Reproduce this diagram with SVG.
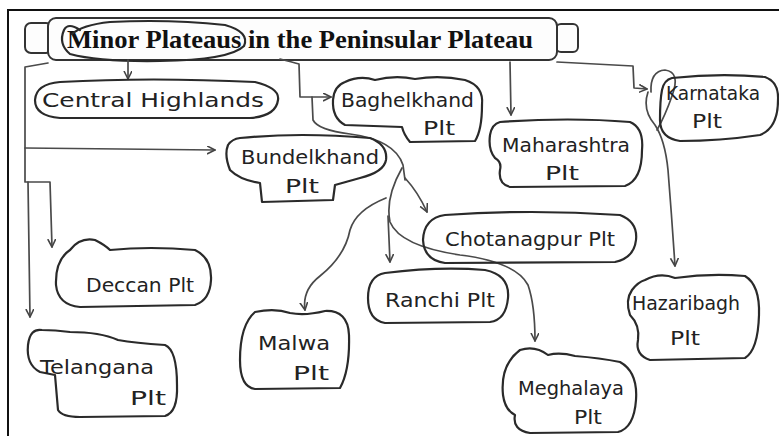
<svg xmlns="http://www.w3.org/2000/svg" width="779" height="436" viewBox="0 0 779 436">
<defs>
<marker id="ah" markerWidth="10" markerHeight="10" refX="8" refY="4" orient="auto" markerUnits="userSpaceOnUse">
<path d="M0,0 L8,4 L0,8" fill="none" stroke="#444" stroke-width="1.6" stroke-linejoin="round"/>
</marker>
<style>
.frame{fill:none;stroke:#111;stroke-width:2}
.box{fill:none;stroke:#2a2a2a;stroke-width:2.2;stroke-linejoin:round;stroke-linecap:round}
.ban{fill:#fdfdfd;stroke:#333;stroke-width:2}
.con{fill:none;stroke:#4a4a4a;stroke-width:1.7;stroke-linecap:round;stroke-linejoin:round}
.arr{marker-end:url(#ah)}
.title{font-family:"Liberation Serif","Times New Roman",serif;font-weight:bold;font-size:25px;fill:#111}
.hw{font-family:"DejaVu Sans","Liberation Sans",sans-serif;font-size:19px;fill:#222}
</style>
</defs>
<rect width="779" height="436" fill="#ffffff"/>
<path class="frame" d="M8 436 L8 10 L779 10"/>

<g id="title">
<rect class="ban" x="25" y="23" width="27" height="30" rx="6"/>
<rect class="ban" x="556" y="24" width="22" height="28" rx="5"/>
<rect class="ban" x="48" y="18" width="509" height="42" rx="8"/>
<text class="title" x="67" y="48" textLength="466" lengthAdjust="spacingAndGlyphs">Minor Plateaus in the Peninsular Plateau</text>
<path class="box" d="M80 30 Q68 22 64 30 Q58 44 70 54 Q100 62 160 61 Q230 60 244 46 Q250 32 225 25 Q170 19 110 22 Q82 25 72 34"/>
</g>

<g id="connectors">
<path class="con" d="M48 63 L25 67 L25 182 L50 182 L52 247" marker-end="url(#ah)"/>
<path class="con arr" d="M25 148 L215 150"/>
<path class="con arr" d="M28 182 L30 317"/>
<path class="con arr" d="M128 60 L128 79"/>
<path class="con arr" d="M280 59 Q292 62 299 64 L300 97 L331 97"/>
<path class="con" d="M312 97 L313 120 Q318 130 350 134 Q395 140 403 165 L405 180"/>
<path class="con arr" d="M405 178 Q418 192 427 212"/>
<path class="con arr" d="M402 168 Q385 198 390 222 Q400 246 460 255 Q516 262 528 285 Q535 305 535 341"/>
<path class="con arr" d="M388 216 L390 262"/>
<path class="con arr" d="M386 198 Q356 210 350 230 Q345 256 320 276 Q302 290 305 310"/>
<path class="con arr" d="M510 62 L511 115"/>
<path class="con arr" d="M557 62 L633 66 L634 88 L647 89"/>
<path class="con arr" d="M648 92 Q642 110 655 125 Q665 140 668 170 Q672 220 675 266"/>
<path class="con" d="M651 92 Q650 71 665 70 Q681 72 672 96 Q665 116 657 130"/>
</g>

<g id="central-highlands">
<path class="box" d="M60 82 Q150 77 255 82 Q280 88 278 100 Q276 116 250 118 L60 118 Q35 116 35 100 Q36 84 60 82 Z"/>
<text class="hw" x="42" y="107" textLength="222" lengthAdjust="spacingAndGlyphs">Central Highlands</text>
</g>

<g id="baghelkhand">
<path class="box" d="M345 82 Q360 75 375 80 Q395 75 415 79 Q440 75 465 80 Q484 86 482 105 Q482 130 475 141 L410 142 Q404 135 402 127 L345 125 Q332 118 333 100 Q334 86 345 82 Z"/>
<text class="hw" x="341" y="107" textLength="133" lengthAdjust="spacingAndGlyphs">Baghelkhand</text>
<text class="hw" x="423" y="135" textLength="32" lengthAdjust="spacingAndGlyphs">Plt</text>
</g>

<g id="maharashtra">
<path class="box" d="M500 122 Q570 117 630 122 Q644 128 642 150 Q642 180 625 186 L510 187 Q498 184 500 170 Q502 162 495 158 Q488 150 490 135 Q492 124 500 122 Z"/>
<text class="hw" x="502" y="152" textLength="128" lengthAdjust="spacingAndGlyphs">Maharashtra</text>
<text class="hw" x="545" y="180" textLength="34" lengthAdjust="spacingAndGlyphs">Plt</text>
</g>

<g id="karnataka">
<path class="box" d="M672 78 Q720 73 765 77 Q779 82 778 100 Q778 128 760 135 Q720 141 680 141 Q660 138 660 120 Q660 100 662 90 Q664 80 672 78 Z"/>
<text class="hw" x="666" y="100" textLength="94" lengthAdjust="spacingAndGlyphs">Karnataka</text>
<text class="hw" x="692" y="128" textLength="30" lengthAdjust="spacingAndGlyphs">Plt</text>
</g>

<g id="bundelkhand">
<path class="box" d="M240 138 Q300 132 370 138 Q388 145 386 160 Q384 172 360 178 L335 185 L333 200 L262 202 L260 183 Q240 180 230 170 Q224 155 228 145 Q232 139 240 138 Z"/>
<text class="hw" x="241" y="164" textLength="138" lengthAdjust="spacingAndGlyphs">Bundelkhand</text>
<text class="hw" x="285" y="193" textLength="34" lengthAdjust="spacingAndGlyphs">Plt</text>
</g>

<g id="chotanagpur">
<path class="box" d="M445 215 Q530 209 620 215 Q638 222 636 240 Q634 258 615 262 L445 263 Q424 260 423 240 Q424 218 445 215 Z"/>
<text class="hw" x="445" y="246" textLength="170" lengthAdjust="spacingAndGlyphs">Chotanagpur Plt</text>
</g>

<g id="deccan">
<path class="box" d="M70 250 Q80 237 95 240 Q105 245 110 250 Q150 246 195 250 Q212 258 211 280 Q210 300 195 305 L80 307 Q58 305 56 285 Q55 260 70 250 Z"/>
<text class="hw" x="86" y="292" textLength="108" lengthAdjust="spacingAndGlyphs">Deccan Plt</text>
</g>

<g id="ranchi">
<path class="box" d="M385 273 Q440 266 485 270 Q510 275 508 298 Q506 320 490 322 L385 323 Q368 320 368 298 Q368 276 385 273 Z"/>
<text class="hw" x="385" y="307" textLength="110" lengthAdjust="spacingAndGlyphs">Ranchi Plt</text>
</g>

<g id="malwa">
<path class="box" d="M255 312 Q275 308 290 313 Q305 316 325 311 Q348 310 349 335 Q350 370 340 388 L255 389 Q240 387 240 360 Q240 325 255 312 Z"/>
<text class="hw" x="258" y="350" textLength="72" lengthAdjust="spacingAndGlyphs">Malwa</text>
<text class="hw" x="293" y="380" textLength="36" lengthAdjust="spacingAndGlyphs">Plt</text>
</g>

<g id="telangana">
<path class="box" d="M42 330 Q30 328 28 345 Q26 365 40 372 L55 375 L58 410 Q62 417 80 417 L165 416 Q178 412 177 385 Q177 350 165 345 Q135 343 118 340 Q100 332 70 332 Q55 330 42 330 Z"/>
<text class="hw" x="40" y="374" textLength="114" lengthAdjust="spacingAndGlyphs">Telangana</text>
<text class="hw" x="130" y="405" textLength="36" lengthAdjust="spacingAndGlyphs">Plt</text>
</g>

<g id="hazaribagh">
<path class="box" d="M645 280 Q660 272 675 278 Q710 273 745 276 Q760 285 759 315 Q758 350 745 358 L650 360 Q635 355 638 340 Q640 325 630 315 Q625 300 632 290 Q638 282 645 280 Z"/>
<text class="hw" x="632" y="310" textLength="108" lengthAdjust="spacingAndGlyphs">Hazaribagh</text>
<text class="hw" x="670" y="345" textLength="30" lengthAdjust="spacingAndGlyphs">Plt</text>
</g>

<g id="meghalaya">
<path class="box" d="M520 350 Q535 345 548 355 Q560 352 575 356 Q600 358 620 362 Q638 372 636 400 Q634 428 618 432 L530 433 Q512 430 515 415 Q505 410 503 395 Q500 365 520 350 Z"/>
<text class="hw" x="518" y="395" textLength="106" lengthAdjust="spacingAndGlyphs">Meghalaya</text>
<text class="hw" x="574" y="424" textLength="28" lengthAdjust="spacingAndGlyphs">Plt</text>
</g>
</svg>
